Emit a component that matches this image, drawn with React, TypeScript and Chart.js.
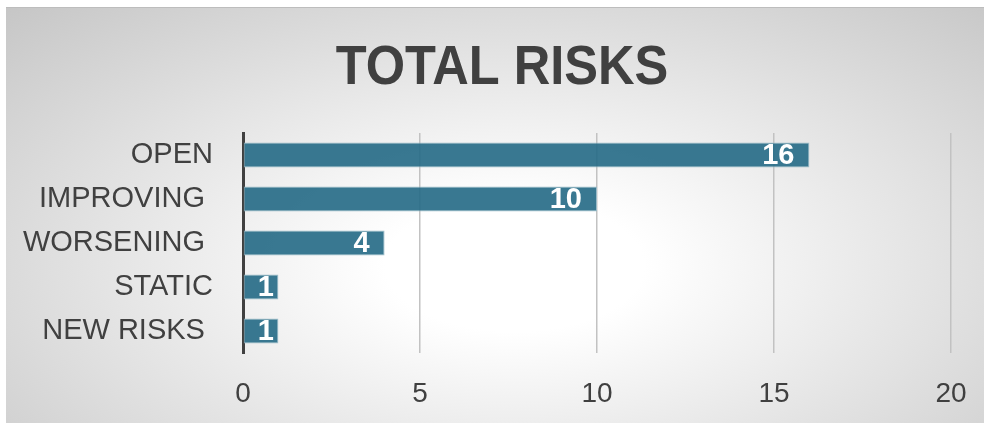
import React, { useEffect, useRef } from "react";
import { Chart, registerables } from "chart.js";

Chart.register(...registerables);

const categories = ["OPEN", "IMPROVING ", "WORSENING ", "STATIC", "NEW RISKS "];
const values = [16, 10, 4, 1, 1];
const xMin = 0;
const xMax = 20;
const xStep = 5;
const titleText = "TOTAL RISKS";

const TEXT = "#404040";

const titlePlugin = {
  id: "customTitle",
  afterDraw(chart: any) {
    const ctx = chart.ctx;
    ctx.save();
    ctx.fillStyle = TEXT;
    ctx.font = 'bold 55px "Liberation Sans", Arial, sans-serif';
    ctx.textAlign = "center";
    ctx.textBaseline = "alphabetic";
    ctx.translate(496, 76);
    ctx.scale(0.92, 1);
    ctx.fillText(titleText, 0, 0);
    ctx.restore();
  },
};

const labelPlugin = {
  id: "barLabels",
  afterDatasetsDraw(chart: any) {
    const ctx = chart.ctx;
    const meta = chart.getDatasetMeta(0);
    ctx.save();
    ctx.fillStyle = "#ffffff";
    ctx.font = 'bold 29px "Liberation Sans", Arial, sans-serif';
    ctx.textAlign = "right";
    ctx.textBaseline = "middle";
    meta.data.forEach((bar: any, i: number) => {
      const text = String(values[i]);
      const w = ctx.measureText(text).width;
      const right = Math.max(bar.x - 15, bar.base + w + 14);
      ctx.fillText(text, right, bar.y + 1);
    });
    ctx.restore();
  },
};

export default function App() {
  const ref = useRef<HTMLCanvasElement | null>(null);

  useEffect(() => {
    if (!ref.current) return;
    const chart = new Chart(ref.current, {
      type: "bar",
      data: {
        labels: categories,
        datasets: [
          {
            data: values,
            backgroundColor: "rgba(40,108,136,0.92)",
            borderColor: "rgba(150,185,200,0.9)",
            borderWidth: 1,
            borderSkipped: false,
            categoryPercentage: 1,
            barPercentage: 0.568,
          },
        ],
      },
      options: {
        indexAxis: "y",
        animation: false,
        responsive: false,
        devicePixelRatio: 1,
        layout: { padding: { top: 125, right: 33, bottom: 0, left: 0 } },
        plugins: {
          legend: { display: false },
          title: { display: false },
          tooltip: { enabled: false },
        },
        scales: {
          x: {
            type: "linear",
            min: xMin,
            max: xMax,
            ticks: {
              stepSize: xStep,
              color: TEXT,
              padding: 24,
              font: { family: '"Liberation Sans", Arial, sans-serif', size: 28 },
            },
            grid: {
              color: (c: any) => (c.tick && c.tick.value === 0 ? "rgba(0,0,0,0)" : "#c2c2c2"),
              lineWidth: 1.5,
              drawTicks: false,
            },
            border: { display: false },
            afterFit(scale: any) {
              scale.height = 70;
              scale.paddingLeft = 0;
              scale.paddingRight = 0;
            },
          },
          y: {
            type: "category",
            ticks: {
              color: TEXT,
              padding: 30,
              font: { family: '"Liberation Sans", Arial, sans-serif', size: 29 },
            },
            grid: { display: false, drawTicks: false },
            border: { display: true, color: TEXT, width: 3 },
            afterFit(scale: any) {
              scale.width = 237;
            },
          },
        },
      },
      plugins: [titlePlugin, labelPlugin],
    } as any);
    return () => chart.destroy();
  }, []);

  return (
    <div
      style={{
        position: "fixed",
        left: 6,
        top: 7,
        width: 978,
        height: 416,
        borderTop: "1px solid #bdbdbd",
        background:
          "radial-gradient(ellipse farthest-corner at 52% 62%, #ffffff 0%, #ffffff 18%, #c6c6c6 100%)",
      }}
    >
      <canvas ref={ref} width={978} height={415} style={{ display: "block", width: 978, height: 415 }} />
    </div>
  );
}
